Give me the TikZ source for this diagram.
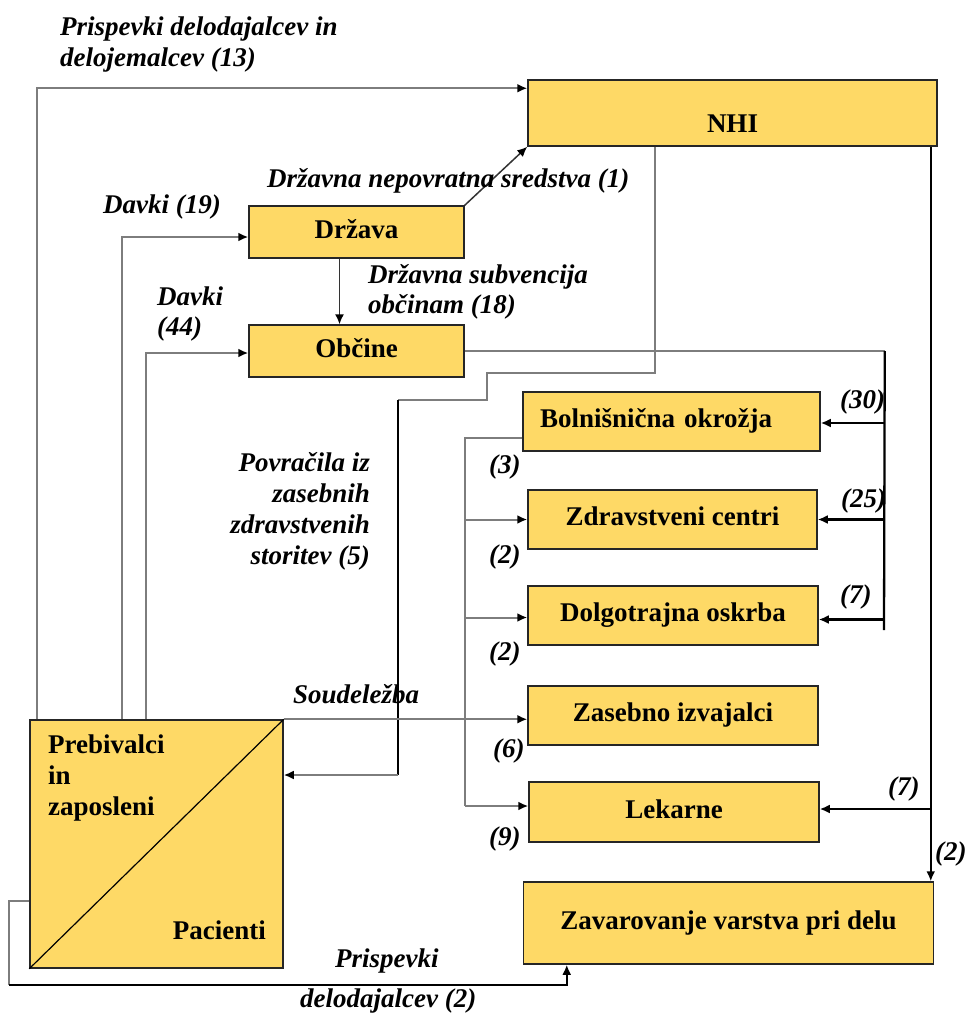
\documentclass[tikz,border=0pt]{standalone}
\usepackage{fontspec}
\setmainfont{Liberation Serif}
\usetikzlibrary{arrows.meta,calc}
\definecolor{boxfill}{RGB}{254,217,102}
\definecolor{lgray}{RGB}{125,125,125}
\begin{document}
\begin{tikzpicture}[x=1pt,y=-1pt,
  box/.style={draw=black!85, line width=1.5pt, fill=boxfill, inner sep=0pt,
    text height=18pt, text depth=6pt, font=\fontsize{27}{31}\selectfont\bfseries},
  btxt/.style={inner sep=0pt, font=\fontsize{27}{31}\selectfont\bfseries},
  lbl/.style={inner sep=0pt, anchor=base west, font=\fontsize{27}{31}\selectfont\bfseries\itshape},
  gline/.style={draw=lgray, line width=2pt},
  bline/.style={draw=black, line width=2.3pt},
  dline/.style={draw=black!80, line width=1.5pt},
  arr/.style={-{Latex[length=10pt,width=9pt,color=black]}}
]
\useasboundingbox (0,0) rectangle (967,1017);

% boxes
\node[box, minimum width=409pt, minimum height=66pt, text height=38pt, text depth=0pt] (nhi) at (732.5,113) {NHI};
\node[box, minimum width=215pt, minimum height=52pt] (drz) at (356.5,232) {Država};
\node[box, minimum width=215pt, minimum height=52pt] (obc) at (356.5,351) {Občine};
\node[box, minimum width=297pt, minimum height=59pt, text width=263pt, align=left] (bol) at (671.5,421.5) {Bolnišnična okrožja};
\node[box, minimum width=289pt, minimum height=59pt] (zdr) at (672.5,519.5) {Zdravstveni centri};
\node[box, minimum width=290pt, minimum height=59pt] (dol) at (673,615.5) {Dolgotrajna oskrba};
\node[box, minimum width=290pt, minimum height=59pt] (zas) at (673,715.5) {Zasebno izvajalci};
\node[box, minimum width=290pt, minimum height=60pt] (lek) at (674,812) {Lekarne};
\node[box, minimum width=410pt, minimum height=82pt] (zav) at (728.5,923) {Zavarovanje varstva pri delu};
\node[box, minimum width=253pt, minimum height=248pt] (prb) at (156.5,844) {};
\draw[line width=1.2pt] (prb.south west) -- (prb.north east);
\node[btxt, anchor=base west] (prb1) at (48,753) {Prebivalci};
\node[btxt, anchor=base west] (prb2) at (48,784) {in};
\node[btxt, anchor=base west] (prb3) at (48,815) {zaposleni};
\node[btxt, anchor=base east] (pac) at (266,939) {Pacienti};

% contributions to NHI, taxes
\coordinate (c13) at ($(prb.north west)+(8,0)$);
\draw[gline,arr] (c13) |- ($(nhi.north west)+(0,9)$);
\draw[gline,arr] ($(prb.north west)+(93,0)$) |- ($(drz.west)+(0,5)$);
\draw[gline,arr] ($(prb.north west)+(117,0)$) |- ($(obc.west)+(0,2)$);
\draw[dline,arr] (drz.north east) -- (nhi.south west);
\draw[dline,arr] ($(drz.south)+(-17,0)$) -- ($(obc.north)+(-17,0)$);

% municipalities bus
\coordinate (b1) at ($(obc.east)+(420,0)$);
\coordinate (b2) at (884,630);
\draw[gline] (obc.east) -- (b1);
\draw[bline] (b1) -- (b2);
\draw[bline,arr] ($(b1 |- bol.east)+(0,1.5)$) -- ($(bol.east)+(0,1.5)$);
\draw[bline,arr] (b1 |- zdr.east) -- (zdr.east);
\draw[bline,arr] ($(b1 |- dol.east)+(0,4)$) -- ($(dol.east)+(0,4)$);

% NHI right trunk
\coordinate (n1) at ($(nhi.south east)+(-7,0)$);
\draw[bline,arr] (n1) -- (n1 |- zav.north);
\draw[bline,arr] ($(n1 |- lek.east)+(0,-3)$) -- ($(lek.east)+(0,-3)$);

% reimbursements
\coordinate (p1) at ($(nhi.south west)+(128,0)$);
\coordinate (p2) at (487,373);
\coordinate (p3) at (398,400);
\coordinate (p4) at (398,775);
\draw[gline] (p1) |- (p2) |- (p3);
\draw[bline] (p3) -- (p4);
\draw[gline,arr] (p4) -- (prb.north east |- p4);

% hospital districts feed
\coordinate (q1) at ($(bol.south west)+(0,-14)$);
\coordinate (q2) at (q1 -| obc.east);
\coordinate (q3) at ($(q2 |- lek.west)+(0,-6)$);
\draw[gline] (q1) -- (q2) -- (q3);
\draw[gline,arr] (q2 |- zdr.west) -- (zdr.west);
\draw[gline,arr] ($(q2 |- dol.west)+(0,2)$) -- ($(dol.west)+(0,2)$);
\draw[gline,arr] (q3) -- (q3 -| lek.west);

% co-payment
\draw[gline,arr] (prb.north east) -- (prb.north east -| zas.west);

% employer contributions
\coordinate (r1) at ($(prb.south west)+(0,-68)$);
\coordinate (r2) at (9,985);
\draw[gline] (r1) -| (r2);
\draw[bline,arr] (r2) -| ($(zav.south west)+(44,0)$);

% labels
\node[lbl] (l13a) at (60,35) {Prispevki delodajalcev in};
\node[lbl] (l13b) at (60,66) {delojemalcev (13)};
\node[lbl] (l19) at (103,213) {Davki (19)};
\node[lbl] (l1) at (267,187) {Državna nepovratna sredstva (1)};
\node[lbl] (l18a) at (368,283) {Državna subvencija};
\node[lbl] (l18b) at (368,313) {občinam (18)};
\node[lbl] (l44a) at (157,305) {Davki};
\node[lbl] (l44b) at (157,335) {(44)};
\node[lbl, anchor=base east] (l5a) at (370,471) {Povračila iz};
\node[lbl, anchor=base east] (l5b) at (370,502) {zasebnih};
\node[lbl, anchor=base east] (l5c) at (370,533) {zdravstvenih};
\node[lbl, anchor=base east] (l5d) at (370,564) {storitev (5)};
\node[lbl] (l30) at (840,408) {(30)};
\node[lbl] (l25) at (841,507) {(25)};
\node[lbl] (l7a) at (840,603) {(7)};
\node[lbl] (l3) at (489,473) {(3)};
\node[lbl] (l2a) at (489,563) {(2)};
\node[lbl] (l2b) at (489,660) {(2)};
\node[lbl] (l6) at (493,757) {(6)};
\node[lbl] (l9) at (489,845) {(9)};
\node[lbl] (l7b) at (888,795) {(7)};
\node[lbl] (l2c) at (935,860) {(2)};
\node[lbl] (lsou) at (293,703) {Soudeležba};
\node[lbl] (lpr1) at (335,967) {Prispevki};
\node[lbl] (lpr2) at (300,1007) {delodajalcev (2)};
\end{tikzpicture}
\end{document}
